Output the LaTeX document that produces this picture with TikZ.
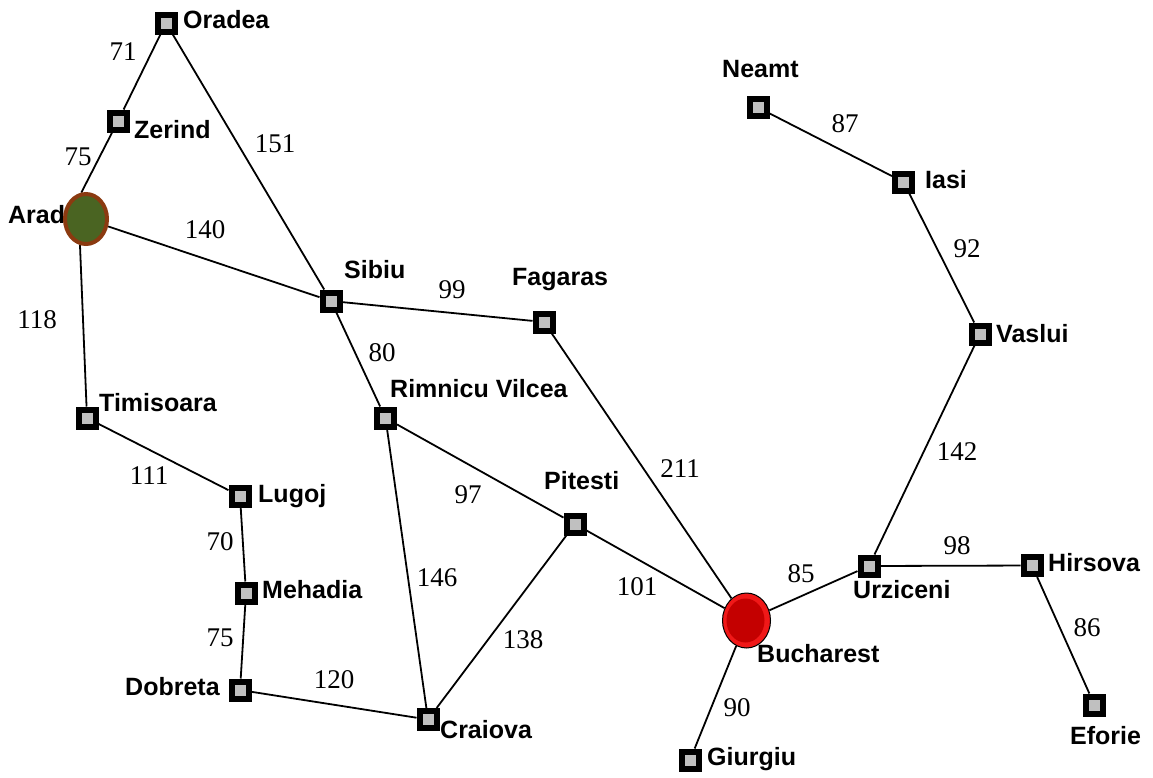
\documentclass[tikz,border=0pt]{standalone}
\usepackage{fontspec}
\setmainfont{Liberation Serif}
\newfontfamily\cityfont{Liberation Sans}
\usetikzlibrary{shapes.geometric}
\definecolor{sqgray}{HTML}{C0C0C0}
\definecolor{aradgreen}{HTML}{4A6422}
\definecolor{aradbrown}{HTML}{8B3A10}
\definecolor{bucred}{HTML}{F01818}
\definecolor{bucdark}{HTML}{C40000}
\pgfdeclarelayer{back}
\pgfdeclarelayer{lab}
\pgfdeclarelayer{bg}
\pgfsetlayers{back,lab,bg,main}
\tikzset{
  city/.style={rectangle, draw=black, line width=6pt, fill=sqgray, minimum size=17pt, inner sep=0pt},
  startcity/.style={ellipse, draw=aradbrown, line width=4pt, fill=aradgreen, minimum width=42pt, minimum height=50pt, inner sep=0pt},
  goalcity/.style={ellipse, draw=black, line width=1pt, fill=bucred, minimum width=48pt, minimum height=55pt, inner sep=0pt,
     path picture={\fill[bucdark] ([xshift=-1pt]path picture bounding box.center) ellipse [x radius=19pt, y radius=22pt];}},
  cityname/.style={anchor=base west, inner sep=0pt, font=\cityfont\bfseries\fontsize{25}{25}\selectfont},
  dist/.style={anchor=center, inner sep=0pt, font=\fontsize{27}{27}\selectfont},
  road/.style={line width=1.8pt, draw=black}
}
\begin{document}
\begin{tikzpicture}[x=1pt,y=-1pt]
\useasboundingbox (0,0) rectangle (1153,777);
\begin{pgfonlayer}{back}
\fill[white] (0,0) rectangle (1153,777);
\end{pgfonlayer}

% city nodes
\node[city] (oradea) at (166,23) {};
\node[city] (zerind) at (118,121) {};
\node[startcity] (arad) at (86,219) {};
\node[city] (sibiu) at (331,301) {};
\node[city] (fagaras) at (544,322) {};
\node[city] (timisoara) at (87,418) {};
\node[city] (rimnicu) at (385.5,418) {};
\node[city] (lugoj) at (240,496) {};
\node[city] (mehadia) at (246,593) {};
\node[city] (dobreta) at (240,690) {};
\node[city] (craiova) at (428,719.5) {};
\node[city] (pitesti) at (575,524) {};
\node[goalcity] (bucharest) at (746.5,620.5) {};
\node[city] (giurgiu) at (690,760) {};
\node[city] (urziceni) at (869,566) {};
\node[city] (hirsova) at (1032,565.5) {};
\node[city] (eforie) at (1094.5,705) {};
\node[city] (vaslui) at (980,334) {};
\node[city] (iasi) at (903.5,182) {};
\node[city] (neamt) at (758,107.5) {};

% roads
\begin{pgfonlayer}{bg}
\draw[road] (oradea) -- (zerind);
\draw[road] (zerind) -- (arad.100);
\draw[road] (oradea) -- (sibiu);
\draw[road] (arad) -- (sibiu);
\draw[road] (arad.-103) -- (timisoara);
\draw[road] (timisoara) -- (lugoj);
\draw[road] (lugoj) -- (mehadia);
\draw[road] (mehadia) -- (dobreta);
\draw[road] (dobreta) -- (craiova);
\draw[road] (sibiu) -- (fagaras);
\draw[road] (sibiu) -- (rimnicu);
\draw[road] (rimnicu) -- (pitesti);
\draw[road] (rimnicu) -- (craiova);
\draw[road] (craiova) -- (pitesti);
\draw[road] (pitesti) -- (bucharest);
\draw[road] (fagaras) -- (bucharest);
\draw[road] (bucharest) -- (giurgiu);
\draw[road] (bucharest) -- (urziceni);
\draw[road] (urziceni) -- (hirsova);
\draw[road] (hirsova) -- (eforie);
\draw[road] (urziceni) -- (vaslui);
\draw[road] (vaslui) -- (iasi);
\draw[road] (iasi) -- (neamt);
\end{pgfonlayer}

% city names
\begin{pgfonlayer}{lab}
\node[cityname] (toradea) at (183,28) {Oradea};
\node[cityname] (tzerind) at (134,138) {Zerind};
\node[cityname] (tarad) at (8,223) {Arad};
\node[cityname] (tsibiu) at (344,278) {Sibiu};
\node[cityname] (tfagaras) at (512,285) {Fagaras};
\node[cityname] (ttimisoara) at (99,411) {Timisoara};
\node[cityname] (trimnicu) at (390,397) {Rimnicu Vilcea};
\node[cityname] (tlugoj) at (258,502) {Lugoj};
\node[cityname] (tmehadia) at (262,598) {Mehadia};
\node[cityname] (tdobreta) at (125,695) {Dobreta};
\node[cityname] (tcraiova) at (440,738) {Craiova};
\node[cityname] (tpitesti) at (544,489) {Pitesti};
\node[cityname] (tbucharest) at (757,662) {Bucharest};
\node[cityname] (tgiurgiu) at (707,765) {Giurgiu};
\node[cityname] (turziceni) at (853,598) {Urziceni};
\node[cityname] (thirsova) at (1048,571) {Hirsova};
\node[cityname] (teforie) at (1070,744) {Eforie};
\node[cityname] (tvaslui) at (996,342) {Vaslui};
\node[cityname] (tiasi) at (925,188) {Iasi};
\node[cityname] (tneamt) at (722,77) {Neamt};
\end{pgfonlayer}

% distances
\node[dist] (d71) at (123,52) {71};
\node[dist] (d75a) at (78,157) {75};
\node[dist] (d151) at (275,144) {151};
\node[dist] (d140) at (205,230) {140};
\node[dist] (d118) at (37,320) {118};
\node[dist] (d111) at (149,476) {111};
\node[dist] (d70) at (220,542) {70};
\node[dist] (d75b) at (220,638) {75};
\node[dist] (d120) at (334,680) {120};
\node[dist] (d99) at (452,290) {99};
\node[dist] (d80) at (382,353) {80};
\node[dist] (d97) at (468,495) {97};
\node[dist] (d146) at (437,578) {146};
\node[dist] (d138) at (523,640) {138};
\node[dist] (d101) at (637,587) {101};
\node[dist] (d211) at (680,469) {211};
\node[dist] (d90) at (737,708) {90};
\node[dist] (d85) at (801,574) {85};
\node[dist] (d98) at (957,546) {98};
\node[dist] (d86) at (1087,628) {86};
\node[dist] (d142) at (957,452) {142};
\node[dist] (d92) at (967,249) {92};
\node[dist] (d87) at (845,124) {87};
\end{tikzpicture}
\end{document}
